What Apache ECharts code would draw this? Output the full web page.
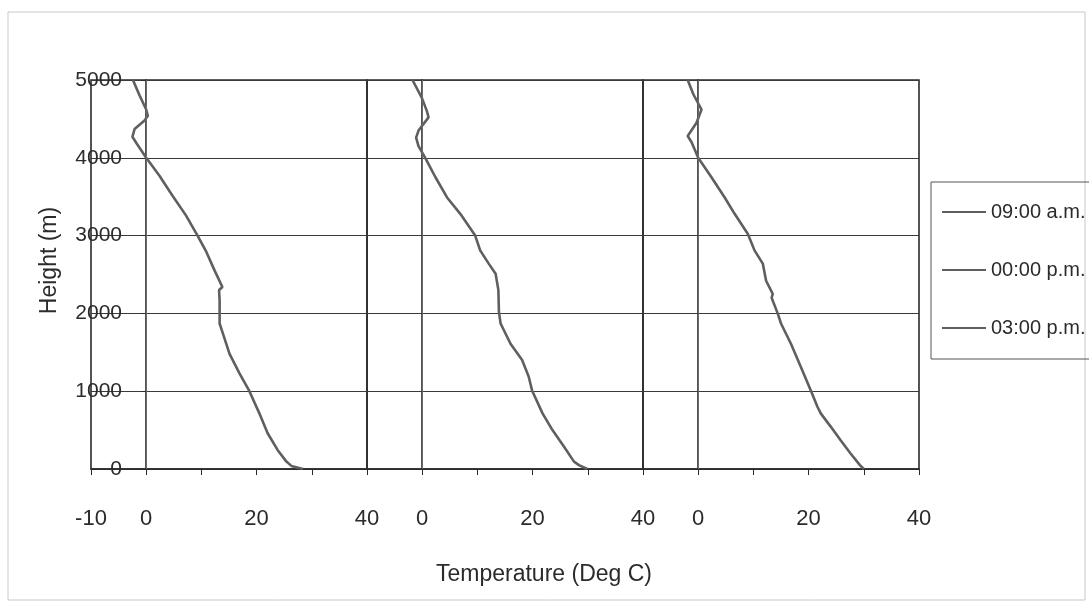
<!DOCTYPE html>
<html>
<head>
<meta charset="utf-8">
<script src="https://cdn.jsdelivr.net/npm/echarts@6/dist/echarts.min.js"></script>
<style>
html,body{margin:0;padding:0;background:#fff;}
#chart{width:1089px;height:607px;}
</style>
</head>
<body>
<div id="chart"></div>
<script>
// ---- Data ----
const seriesNames = ['09:00 a.m.', '00:00 p.m.', '03:00 p.m.'];

const temp0900   = [28.4, 26.3, 25.4, 23.8, 22.0, 20.5, 18.7, 16.9, 15.1, 13.9, 13.3, 13.3, 13.3, 13.2, 13.8, 12.4, 10.9, 9.3, 7.2, 4.8, 2.4, 0.0, -1.7, -2.5, -2.1, -0.3, 0.3, 0.0, -1.2, -2.4];
const height0900 = [0, 40, 95, 245, 460, 715, 1000, 1230, 1480, 1740, 1870, 2000, 2170, 2300, 2340, 2550, 2790, 3000, 3260, 3510, 3770, 4000, 4180, 4270, 4370, 4480, 4540, 4620, 4800, 5000];

const temp1200   = [29.9, 28.4, 27.5, 25.7, 23.6, 21.8, 19.9, 19.3, 18.1, 16.0, 14.2, 13.9, 13.8, 13.3, 12.05, 10.5, 9.6, 6.9, 4.5, 2.4, 0.55, -0.67, -1.1, -0.67, 1.15, 0.85, -0.06, -1.76];
const height1200 = [0, 50, 95, 285, 500, 715, 1010, 1185, 1400, 1610, 1870, 2020, 2300, 2510, 2640, 2810, 3000, 3280, 3490, 3750, 4000, 4150, 4260, 4350, 4520, 4600, 4770, 5000];

const temp1500   = [30.0, 29.3, 27.6, 25.8, 24.0, 22.2, 21.6, 20.4, 18.6, 16.8, 15.0, 14.4, 13.3, 13.5, 12.3, 11.7, 10.2, 9.0, 6.6, 4.8, 2.4, 0.0, -1.2, -1.9, -0.3, 0.6, -0.9, -1.9];
const height1500 = [0, 50, 200, 370, 545, 715, 800, 1010, 1310, 1610, 1870, 2000, 2200, 2250, 2420, 2640, 2810, 3020, 3280, 3490, 3750, 4000, 4200, 4280, 4450, 4620, 4820, 5000];

const xMin = -10, xMax = 40, xInterval = 10;
const yMin = 0, yMax = 5000, yInterval = 1000;
const xTickLabelsFirst = [-10, 0, 20, 40];
const xTickLabelsOther = [0, 20, 40];

const temps = [temp0900, temp1200, temp1500];
const heights = [height0900, height1200, height1500];

// ---- Chart ----
const FONT = '"Liberation Sans", Arial, sans-serif';
const TXT = '#2b2b2b';
const LINE = '#5f5f5f';
const gridLefts = [91, 367, 643];

const grids = gridLefts.map(l => ({
  left: l, top: 80, width: 276, height: 389,
  show: true, borderColor: '#2a2a2a', borderWidth: 1.6, containLabel: false
}));

const xAxes = gridLefts.map((l, i) => ({
  type: 'value', gridIndex: i, min: xMin, max: xMax, interval: xInterval,
  axisLine: { show: true, lineStyle: { color: '#2a2a2a', width: 1.6 } },
  axisTick: { show: true, length: 6, inside: false, lineStyle: { color: '#2a2a2a', width: 1 } },
  splitLine: { show: false },
  axisLabel: {
    show: true, margin: 39, fontSize: 22, color: TXT, fontFamily: FONT,
    showMinLabel: true, showMaxLabel: true, hideOverlap: false,
    formatter: v => ((i === 0 ? xTickLabelsFirst : xTickLabelsOther).includes(v) ? String(v) : '')
  },
  name: i === 1 ? 'Temperature (Deg C)' : '',
  nameLocation: 'middle', nameGap: 94,
  nameTextStyle: { fontSize: 23, color: TXT, fontFamily: FONT, padding: [0, 0, 0, 78] }
}));

const yAxes = gridLefts.map((l, i) => ({
  type: 'value', gridIndex: i, min: yMin, max: yMax, interval: yInterval,
  axisLine: { show: true, lineStyle: { color: '#2a2a2a', width: 1.6 } },
  axisTick: { show: i === 0, length: 5, lineStyle: { color: '#2a2a2a' } },
  splitLine: { show: true, lineStyle: { color: '#3a3a3a', width: 1 } },
  axisLabel: {
    show: i === 0, margin: -31, fontSize: 21, color: TXT, fontFamily: FONT,
    formatter: v => String(v)
  },
  name: i === 0 ? 'Height (m)' : '',
  nameLocation: 'middle', nameGap: 30, nameRotate: 90,
  nameTextStyle: { fontSize: 23, color: TXT, fontFamily: FONT, padding: [0, 0, 0, 28] }
}));

const series = seriesNames.map((name, i) => ({
  name, type: 'line', xAxisIndex: i, yAxisIndex: i,
  data: temps[i].map((t, k) => [t, heights[i][k]]),
  showSymbol: false, symbol: 'none', smooth: false,
  lineStyle: { color: LINE, width: 2.6 },
  itemStyle: { color: LINE },
  markLine: {
    silent: true, symbol: 'none', label: { show: false },
    lineStyle: { color: '#6a6a6a', width: 1, type: 'solid' },
    data: [{ xAxis: 0 }]
  },
  z: 3
}));

const chart = echarts.init(document.getElementById('chart'), null, { renderer: 'canvas' });
chart.setOption({
  animation: false,
  backgroundColor: '#ffffff',
  textStyle: { fontFamily: FONT },
  grid: grids,
  xAxis: xAxes,
  yAxis: yAxes,
  legend: {
    orient: 'vertical', left: 931, top: 182,
    padding: [20, 60, 21, 11], itemGap: 38,
    itemWidth: 44, itemHeight: 20,
    icon: 'path://M0,0 L44,0 L44,2 L0,2 Z',
    borderColor: '#555', borderWidth: 1,
    textStyle: { fontSize: 20, color: TXT, fontFamily: FONT },
    data: seriesNames
  },
  graphic: [{
    type: 'rect', silent: true, z: -1,
    shape: { x: 8, y: 12, width: 1077, height: 588 },
    style: { fill: 'none', stroke: '#c8c8c8', lineWidth: 1 }
  }],
  series
});
</script>
</body>
</html>
